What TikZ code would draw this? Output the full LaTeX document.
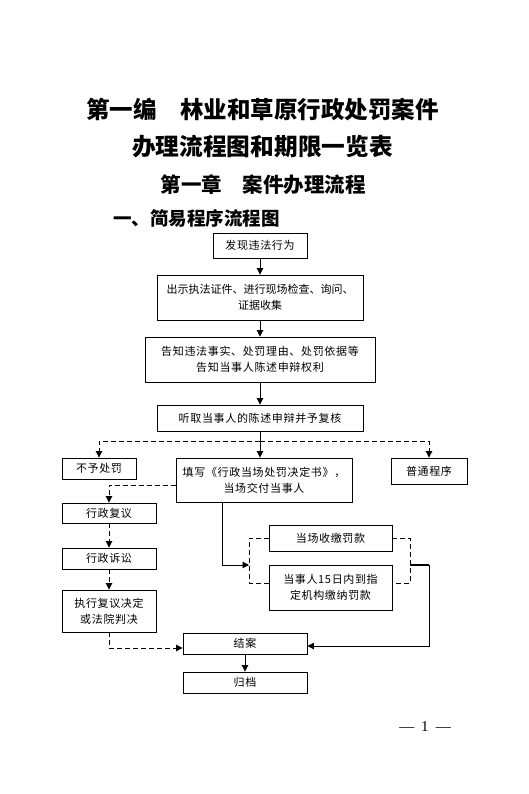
\documentclass[tikz,border=0pt]{standalone}
\usepackage{fontspec}
\setmainfont{Liberation Serif}
\newfontfamily\cjk{Noto Sans CJK SC}
\newfontfamily\bxf[LetterSpace=6]{Noto Sans CJK SC}
\usetikzlibrary{arrows.meta}
\tikzset{
  box/.style={draw,line width=0.9pt,inner sep=0pt,align=center,
    font={\bxf\fontsize{11}{16}\selectfont}},
  boxn/.style={box,font={\cjk\fontsize{11}{16}\selectfont}},
  conn/.style={line width=0.9pt,-{Triangle[length=6.5pt,width=6.5pt]}},
  dconn/.style={conn,dash pattern=on 5pt off 3pt},
  dline/.style={line width=0.9pt,dash pattern=on 5pt off 3pt},
  sline/.style={line width=0.9pt},
}
\begin{document}
\begin{tikzpicture}[x=1pt,y=-1pt]
\useasboundingbox (0,0) rectangle (529,794);
% titles
\node[font={\cjk\bfseries\fontsize{23.5}{28}\selectfont}] (t1) at (262.5,110) {第一编　林业和草原行政处罚案件};
\node[font={\cjk\bfseries\fontsize{23.7}{28}\selectfont}] (t2) at (262.5,147) {办理流程图和期限一览表};
\node[font={\cjk\bfseries\fontsize{20.5}{24}\selectfont}] (t3) at (263,185) {第一章　案件办理流程};
\node[anchor=west,inner sep=0pt,font={\cjk\bfseries\fontsize{18.5}{22}\selectfont}] (t4) at (113,218) {一、简易程序流程图};
% main column
\node[box,minimum width=94pt,minimum height=25pt] (b1) at (260,245.5) {发现违法行为};
\node[boxn,minimum width=206pt,minimum height=45pt] (b2) at (260,297.5) {出示执法证件、进行现场检查、询问、\\证据收集};
\node[box,minimum width=230pt,minimum height=45pt] (b3) at (260,359.5) {告知违法事实、处罚理由、处罚依据等\\告知当事人陈述申辩权利};
\node[box,minimum width=206pt,minimum height=26pt] (b4) at (260,418) {听取当事人的陈述申辩并予复核};
\node[box,minimum width=74pt,minimum height=21pt] (np) at (99,468.5) {不予处罚};
\node[box,minimum width=176pt,minimum height=44pt] (fill) at (264,480) {填写《行政当场处罚决定书》，\\当场交付当事人};
\node[box,minimum width=76pt,minimum height=26pt] (norm) at (429,471) {普通程序};
\node[box,minimum width=94pt,minimum height=20pt] (fy) at (109,513) {行政复议};
\node[box,minimum width=94pt,minimum height=21pt] (ss) at (109,558.5) {行政诉讼};
\node[box,minimum width=94pt,minimum height=42pt] (zx) at (109,611) {执行复议决定\\或法院判决};
\node[box,minimum width=123pt,minimum height=26pt] (dc) at (330.5,538) {当场收缴罚款};
\node[box,minimum width=123pt,minimum height=45pt] (d15) at (330.5,587.5) {当事人15日内到指\\定机构缴纳罚款};
\node[box,minimum width=124pt,minimum height=21pt] (ja) at (245,643.5) {结案};
\node[box,minimum width=124pt,minimum height=21pt] (gd) at (245,682.5) {归档};
\node[font={\fontsize{15}{17}\selectfont}] (pg) at (425,727) {—\hspace{7pt}1\hspace{7pt}—};
% helper coordinates
\coordinate (split) at (260,441);
\coordinate (fx) at (222,0);
\coordinate (bkL1) at (249,538);
\coordinate (bkL2) at (249,583);
\coordinate (bkR1) at (410,538);
\coordinate (bkR2) at (410,583);
\coordinate (bkM) at (249,565);
\coordinate (bkRM) at (410,565);
\coordinate (rr) at (429,565);
% connectors
\draw[conn] (b1) -- (b2);
\draw[conn] (b2) -- (b3);
\draw[conn] (b3) -- (b4);
\draw[conn] (b4.south -| split) -- (split |- fill.north);
\draw[dconn] (split) -| (np.north);
\draw[dconn] (split) -| (norm.north);
\draw[dconn] ([yshift=-5pt]fill.west) -| (fy.north);
\draw[dconn] (fy) -- (ss);
\draw[dconn] (ss) -- (zx);
\draw[dconn] (zx.south) |- ([yshift=-4.5pt]ja.west);
\draw[conn] (fill.south -| fx) |- (bkM);
\draw[dline] (dc.west) -- (bkL1) -- (bkL2) -- (d15.west |- bkL2);
\draw[dline] (dc.east) -- (bkR1) -- (bkR2) -- (d15.east |- bkR2);
\draw[line width=1.6pt] (bkRM) -- (rr);
\draw[conn] (bkRM) -- (rr) |- ([yshift=-2.5pt]ja.east);
\draw[conn] (ja) -- (gd);
\end{tikzpicture}
\end{document}
